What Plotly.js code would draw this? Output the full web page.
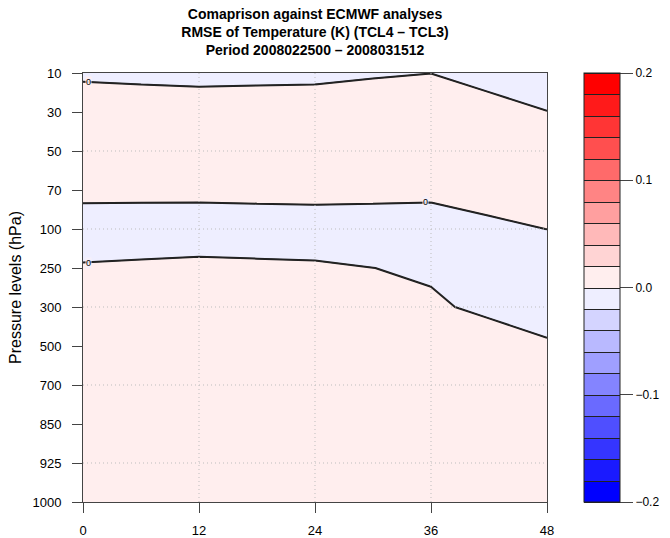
<!DOCTYPE html>
<html>
<head>
<meta charset="utf-8">
<script src="https://cdn.plot.ly/plotly-3.0.1.min.js"></script>
<style>html,body{margin:0;padding:0;background:#fff;}</style>
</head>
<body>
<div id="chart" style="width:670px;height:538px;"></div>
<script>
// Forecast steps (hours)
var steps = [0, 6, 12, 18, 24, 30, 36, 42, 48];
// Pressure levels (hPa), top to bottom
var levels = ['10', '30', '50', '70', '100', '250', '300', '500', '700', '850', '925', '1000'];
// RMSE difference TCL4 - TCL3 (K), one row per pressure level, one value per step
var rmseDiff = [
  [-0.0023, -0.0033, -0.0043, -0.0038, -0.0033, -0.0013, -0.0001, -0.0077, -0.0097],
  [ 0.0080,  0.0080,  0.0080,  0.0080,  0.0080,  0.0080,  0.0080,  0.0080,  0.0003],
  [ 0.0100,  0.0100,  0.0100,  0.0100,  0.0100,  0.0100,  0.0100,  0.0100,  0.0060],
  [ 0.0060,  0.0060,  0.0060,  0.0060,  0.0060,  0.0060,  0.0060,  0.0060,  0.0060],
  [-0.0116, -0.0122, -0.0128, -0.0111, -0.0098, -0.0111, -0.0128, -0.0031,  0.0001],
  [ 0.0019,  0.0034,  0.0052,  0.0035,  0.0023,  0.0001, -0.0024, -0.0080, -0.0099],
  [ 0.0060,  0.0070,  0.0070,  0.0070,  0.0060,  0.0050,  0.0026, -0.0037, -0.0075],
  [ 0.0090,  0.0090,  0.0090,  0.0090,  0.0090,  0.0090,  0.0090,  0.0090,  0.0020],
  [ 0.0110,  0.0110,  0.0110,  0.0110,  0.0110,  0.0110,  0.0110,  0.0110,  0.0060],
  [ 0.0120,  0.0120,  0.0120,  0.0120,  0.0120,  0.0120,  0.0120,  0.0120,  0.0090],
  [ 0.0100,  0.0100,  0.0100,  0.0100,  0.0100,  0.0100,  0.0100,  0.0100,  0.0100],
  [ 0.0080,  0.0080,  0.0080,  0.0080,  0.0080,  0.0080,  0.0080,  0.0080,  0.0080]
];
var xTicks = [0, 12, 24, 36, 48];
var cbTicks = [-0.2, -0.1, 0.0, 0.1, 0.2];
var xGrid = [12, 24, 36];
var yGrid = ['50', '100', '300', '700', '925'];
// zero-contour labels: [step, level position along the line]
var zeroLabelSteps = [0.6, 35.4, 0.6];
var zeroLabelPos = [0.22, 3.32, 4.86];
var zeroLabelBg = ['rgba(255,238,238,0.9)', 'rgba(245,240,250,0.9)', 'rgba(245,240,250,0.9)'];

// Contour levels
var cStart = -0.2, cEnd = 0.2, cSize = 0.02;
var nBands = 20;

// band colours: blue -> near white | near white -> red
function bandColor(j) {
  if (j < 0) j = 0;
  if (j > nBands - 1) j = nBands - 1;
  var g;
  if (j < 10) { g = Math.round(238 * j / 9); return 'rgb(' + g + ',' + g + ',255)'; }
  g = Math.round(238 * (19 - j) / 9); return 'rgb(255,' + g + ',' + g + ')';
}
// stepped colourscale: plotly evaluates band j at p=(j+1)/(nLevels)
var nLevels = nBands + 1;
var cscale = [];
for (var j = -1; j <= nBands; j++) {
  var p0 = Math.max(0, (j + 0.5) / nLevels);
  var p1 = Math.min(1, (j + 1.5) / nLevels);
  var col = bandColor(j);
  cscale.push([p0, col]);
  cscale.push([p1, col]);
}

var font = 'Liberation Sans, Arial, Helvetica, sans-serif';

var fillTrace = {
  type: 'contour',
  x: steps,
  y: levels,
  z: rmseDiff,
  autocontour: false,
  contours: { start: cStart, end: cEnd, size: cSize, coloring: 'fill', showlines: true },
  line: { color: '#222', width: 1, smoothing: 0 },
  colorscale: cscale,
  zmin: cStart, zmax: cEnd, zauto: false,
  hoverinfo: 'skip',
  colorbar: {
    xref: 'container', x: 584 / 670, xanchor: 'left', xpad: 0,
    y: 0.5, yanchor: 'middle', ypad: 0, len: 1, lenmode: 'fraction',
    thickness: 36, thicknessmode: 'pixels',
    outlinewidth: 1, outlinecolor: '#222',
    tickvals: cbTicks, tickformat: '.1f',
    ticks: 'outside', ticklen: 13, tickcolor: '#444', tickwidth: 1,
    tickfont: { family: font, size: 12, color: '#000' }
  }
};
var lineTrace = {
  type: 'contour',
  x: steps,
  y: levels,
  z: rmseDiff,
  autocontour: false,
  contours: { start: 0, end: 0, size: 1, coloring: 'none', showlines: true },
  line: { color: '#222', width: 2, smoothing: 0 },
  showscale: false,
  hoverinfo: 'skip'
};

var shapes = [];
xGrid.forEach(function (v) {
  shapes.push({ type: 'line', xref: 'x', yref: 'paper', x0: v, x1: v, y0: 0, y1: 1, layer: 'above',
                line: { color: '#bdbdbd', width: 1, dash: '1px,3px' } });
});
yGrid.forEach(function (v) {
  var idx = levels.indexOf(v);
  shapes.push({ type: 'line', xref: 'paper', yref: 'y', x0: 0, x1: 1, y0: idx, y1: idx, layer: 'above',
                line: { color: '#bdbdbd', width: 1, dash: '1px,3px' } });
});

var annotations = zeroLabelSteps.map(function (s, i) {
  return { x: s, y: zeroLabelPos[i], xref: 'x', yref: 'y', text: '0', showarrow: false,
           font: { family: font, size: 9, color: '#000' }, bgcolor: zeroLabelBg[i],
           borderpad: 0, xanchor: 'center', yanchor: 'middle' };
});

var layout = {
  width: 670, height: 538,
  margin: { l: 83, r: 123, t: 73, b: 36 },
  paper_bgcolor: '#fff', plot_bgcolor: '#fff',
  font: { family: font, size: 13, color: '#000' },
  showlegend: false,
  title: {
    text: '<b>Comaprison against ECMWF analyses</b><br><b>RMSE of Temperature (K) (TCL4 – TCL3)</b><br><b>Period 2008022500 – 2008031512</b>',
    font: { family: font, size: 14, color: '#000' },
    xref: 'paper', x: 0.5, xanchor: 'center',
    yref: 'container', y: 1 - 19 / 538, yanchor: 'top'
  },
  xaxis: {
    range: [0, 48], tickvals: xTicks, ticks: 'outside', ticklen: 10, tickcolor: '#444',
    showline: true, linecolor: '#444', linewidth: 1, mirror: true,
    showgrid: false, zeroline: false, ticklabelstandoff: 6,
    tickfont: { family: font, size: 13 }
  },
  yaxis: {
    type: 'category', categoryarray: levels, range: [11, 0],
    ticks: 'outside', ticklen: 10, tickcolor: '#444',
    showline: true, linecolor: '#444', linewidth: 1, mirror: true,
    showgrid: false, zeroline: false, ticklabelstandoff: 8,
    tickfont: { family: font, size: 13 },
    title: { text: 'Pressure levels (hPa)', font: { family: font, size: 16 }, standoff: 6 }
  },
  shapes: shapes,
  annotations: annotations
};

Plotly.newPlot('chart', [fillTrace, lineTrace], layout, { displayModeBar: false, staticPlot: true });
</script>
</body>
</html>
